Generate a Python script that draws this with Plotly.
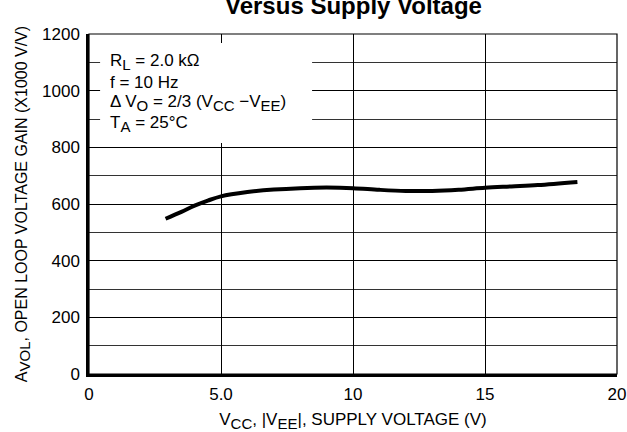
import plotly.graph_objects as go

supply_v = [2.9, 3.5, 4.0, 4.5, 5.0, 6.0, 7.0, 8.0, 9.0, 10.0, 11.0, 12.0, 13.0, 14.0, 15.0, 16.0, 17.0, 18.5]
gain = [548, 572, 594, 612, 627, 642, 651, 656, 658, 656, 650, 646, 646, 650, 657, 662, 667, 678]

x_ticks = [0, 5, 10, 15, 20]
x_tick_labels = ["0", "5.0", "10", "15", "20"]
y_ticks = [0, 200, 400, 600, 800, 1000, 1200]

def sub(s, size=15):
    return '<sub><span style="font-size:%dpx">%s</span></sub>' % (size, s)

cond_lines = [
    "R" + sub("L") + " = 2.0 kΩ",
    "f = 10 Hz",
    "Δ V" + sub("O") + " = 2/3 (V" + sub("CC") + " −V" + sub("EE") + ")",
    "T" + sub("A") + " = 25°C",
]
cond_y = [1100, 1030, 955, 882]

FONT = "Liberation Sans, Arial, sans-serif"

fig = go.Figure()
fig.add_trace(go.Scatter(x=supply_v, y=gain, mode="lines",
                         line=dict(color="black", width=4, shape="spline", smoothing=1.0),
                         showlegend=False, hoverinfo="skip"))

fig.update_layout(
    width=627, height=432,
    margin=dict(l=89, r=10, t=34, b=58),
    paper_bgcolor="white", plot_bgcolor="white",
    font=dict(family=FONT, size=17, color="black"),
    xaxis=dict(range=[0, 20], tickvals=x_ticks, ticktext=x_tick_labels,
               showgrid=True, gridcolor="black", gridwidth=1,
               showline=True, linecolor="black", linewidth=2.5,
               ticks="", zeroline=False, tickfont=dict(size=17), automargin=False,
               ticklabelstandoff=3,
               title=dict(text="V" + sub("CC") + ", |V" + sub("EE") + "|, SUPPLY VOLTAGE (V)",
                          font=dict(size=17), standoff=14)),
    yaxis=dict(range=[0, 1200], tickvals=y_ticks,
               showgrid=True, gridcolor="black", gridwidth=1,
               minor=dict(dtick=100, showgrid=True, gridcolor="#333333", gridwidth=1, ticks=""),
               showline=True, linecolor="black", linewidth=2.5,
               ticks="", zeroline=False, tickfont=dict(size=17), ticklabelstandoff=3,
               automargin=False,
               title=dict(text="A" + sub("VOL", 15) + ", OPEN LOOP VOLTAGE GAIN (X1000 V/V)",
                          font=dict(size=16), standoff=11)),
)

# frame top/right
fig.add_shape(type="rect", xref="paper", yref="paper", x0=0, x1=1, y0=0, y1=1,
              line=dict(color="black", width=1.2), layer="above")
# white box behind the conditions text
fig.add_shape(type="rect", xref="x", yref="y", x0=0.42, x1=8.45, y0=815, y1=1168,
              fillcolor="white", line=dict(width=0), layer="above")

for t, yy in zip(cond_lines, cond_y):
    fig.add_annotation(x=0.72, y=yy, xref="x", yref="y", text=t, showarrow=False,
                       xanchor="left", yanchor="middle", font=dict(size=17))

fig.add_annotation(x=0.5, y=1, xref="paper", yref="paper", yshift=13, text="<b>Versus Supply Voltage</b>",
                   showarrow=False, xanchor="center", yanchor="bottom", font=dict(size=24))

fig.write_html("out.html", config={"displayModeBar": False},
               post_script="document.body.style.margin='0px';")
